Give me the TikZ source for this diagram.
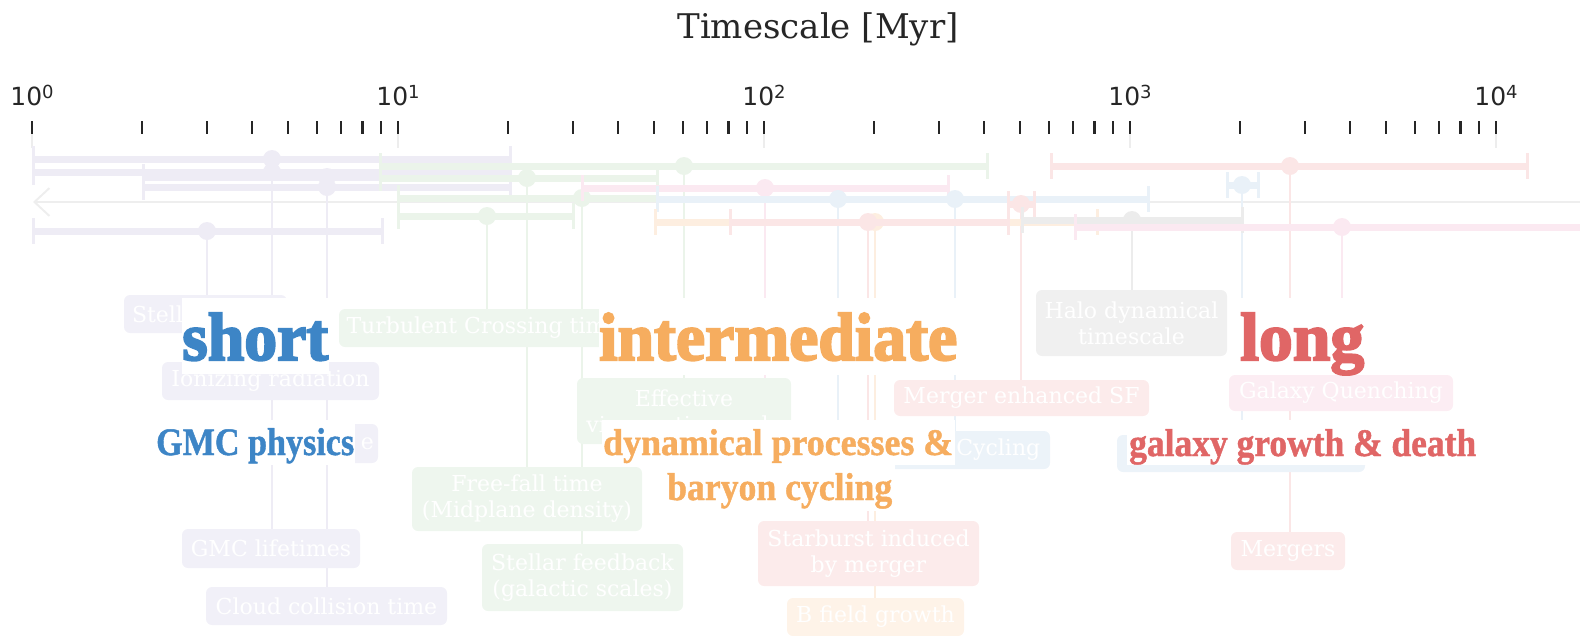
\documentclass[tikz,border=0pt]{standalone}
\usepackage{fontspec}
\usepackage{graphicx}
\usetikzlibrary{arrows.meta}
\setmainfont{DejaVu Serif}
\newfontfamily\ticksans{DejaVu Sans}
\newfontfamily\heavyfont{Liberation Serif}[BoldFeatures={FakeBold=3}]
\newfontfamily\medfont{Liberation Serif}[BoldFeatures={FakeBold=1.2}]

% ink and label colours
\definecolor{ink}{HTML}{262626}
\definecolor{stubc}{HTML}{EDEDED}
\definecolor{shortc}{HTML}{3D85C6}
\definecolor{interc}{HTML}{F6AD5F}
\definecolor{longc}{HTML}{E06666}
% pale series colours: L = bars and leaders, B = box fills
\definecolor{purpL}{HTML}{EEECF5}\definecolor{purpB}{HTML}{F1F0F8}
\definecolor{grnL}{HTML}{EBF4EA}\definecolor{grnB}{HTML}{EEF6EE}
\definecolor{pinkL}{HTML}{FBE9F1}\definecolor{pinkB}{HTML}{FCEDF3}
\definecolor{redL}{HTML}{FBE6E6}\definecolor{redB}{HTML}{FCEBEB}
\definecolor{orL}{HTML}{FDEEE0}\definecolor{orB}{HTML}{FEF3E8}
\definecolor{bluL}{HTML}{E9F1F8}\definecolor{bluB}{HTML}{ECF3F9}
\definecolor{gryL}{HTML}{ECECEC}\definecolor{gryB}{HTML}{F0F0F0}
\definecolor{arrc}{HTML}{EEEEEE}

\newcommand{\boxfont}{\fontsize{22}{26}\selectfont}
% big category word and its caption, stretched to a given width and height
\newcommand{\bigword}[3]{\resizebox{#1pt}{#2pt}{\heavyfont\fontsize{40}{48}\selectfont\bfseries #3}}
\newcommand{\subword}[3]{\resizebox{#1pt}{#2pt}{\medfont\fontsize{40}{48}\selectfont\bfseries #3}}

\pgfdeclarelayer{lines}
\pgfsetlayers{lines,main}

% error bar: colour, y, x1, x2, xdot, name of the dot
\newcommand{\ebar}[6]{%
  \draw[barline, draw=#1] (#3,#2) -- (#4,#2);
  \draw[capline, draw=#1] (#3,{#2-13}) -- (#3,{#2+13});
  \draw[capline, draw=#1] (#4,{#2-13}) -- (#4,{#2+13});
  \fill[#1] (#5,#2) circle[radius=9pt];
  \coordinate (#6) at (#5,#2);}

\begin{document}
\begin{tikzpicture}[x=1pt,y=-1pt,
  tick/.style={line width=2.2pt, draw=ink},
  majtick/.style={line width=2.6pt, draw=ink},
  stub/.style={line width=2pt, draw=stubc},
  barline/.style={line width=7pt},
  capline/.style={line width=3pt},
  leader/.style={line width=2.5pt},
  tbox/.style={rounded corners=6pt, inner sep=0pt, text=white, font=\boxfont, align=center},
  word/.style={anchor=base west, inner sep=0pt},
  labelbg/.style={fill=white}]

\useasboundingbox (0,0) rectangle (1580,635);

% axis title and logarithmic ticks
\node[anchor=base, inner sep=0pt, text=ink, font=\fontsize{34}{40}\selectfont] (title) at (818,38) {Timescale [Myr]};
\foreach \k in {0,1,2,3}{
  \foreach \m in {2,...,9}{
    \pgfmathsetmacro{\xx}{32+366*(\k+log10(\m))}
    \draw[tick] (\xx,121) -- (\xx,134);
  }}
\foreach \k in {0,1,2,3,4}{
  \pgfmathsetmacro{\xx}{32+366*\k}
  \draw[majtick] (\xx,121) -- (\xx,134);
  \draw[stub] (\xx,134) -- (\xx,148);
  \node[anchor=base, inner sep=0pt, text=ink] (t\k) at (\xx,105)
    {\ticksans\fontsize{25}{25}\selectfont 10\raisebox{7pt}{\fontsize{18}{18}\selectfont \k}};
}

% long arrow line through the bars
\coordinate (arrL) at (33,202);
\coordinate (arrR) at (1580,202);
\begin{pgfonlayer}{lines}
\draw[line width=2pt, draw=arrc, {Straight Barb[length=15pt,width=28pt]}-] (arrL) -- (arrR);
\end{pgfonlayer}

% error bars
\ebar{purpL}{159}{33}{510}{272}{pA}
\ebar{purpL}{172}{33}{510}{272}{pB}
\ebar{purpL}{177}{143}{510}{327}{pC}
\ebar{purpL}{187}{143}{510}{327}{pD}
\ebar{purpL}{231}{33}{382}{207}{pE}
\ebar{grnL}{166}{380}{987}{684}{gA}
\ebar{grnL}{178}{380}{657}{527}{gB}
\ebar{grnL}{198}{398}{657}{582}{gC}
\ebar{grnL}{216}{398}{573}{487}{gD}
\ebar{pinkL}{188}{582}{948}{765}{kA}
\ebar{bluL}{199}{657}{1148}{838}{bA}
\fill[bluL] (955,199) circle[radius=9pt];
\coordinate (bB) at (955,199);
\ebar{orL}{222}{655}{1097}{875}{oA}
\ebar{redL}{222}{730}{1008}{868}{rA}
\ebar{redL}{204}{1008}{1034}{1021}{rB}
\ebar{gryL}{220}{1022}{1242}{1132}{hA}
\ebar{pinkL}{227}{1075}{1600}{1342}{kB}
\ebar{redL}{166}{1051}{1527}{1290}{rC}
\ebar{bluL}{185}{1227}{1258}{1242}{bC}

% labelled boxes
\node[tbox, fill=purpB, minimum width=163pt, minimum height=38pt, text width=147pt, align=left] (stell) at (205.5,314) {Stell};
\node[tbox, fill=purpB, minimum width=217pt, minimum height=38pt] (ion) at (270.5,381) {Ionizing radiation};
\node[tbox, fill=purpB, minimum width=212pt, minimum height=39pt, text width=204pt, align=right] (pe) at (272,443.5) {e};
\node[tbox, fill=purpB, minimum width=178pt, minimum height=39pt] (gmclife) at (271,548.5) {GMC lifetimes};
\node[tbox, fill=purpB, minimum width=241pt, minimum height=38pt] (cloud) at (326.5,606) {Cloud collision time};
\node[tbox, fill=grnB, minimum width=288pt, minimum height=38pt] (turb) at (483,328) {Turbulent Crossing time};
\node[tbox, fill=grnB, minimum width=214pt, minimum height=66pt] (eff) at (684,411) {Effective\\viscous timescale};
\node[tbox, fill=grnB, minimum width=230pt, minimum height=64pt] (ff) at (527,499) {Free-fall time\\(Midplane density)};
\node[tbox, fill=grnB, minimum width=201pt, minimum height=67pt] (sfb) at (582.5,577.5) {Stellar feedback\\(galactic scales)};
\node[tbox, fill=redB, minimum width=221pt, minimum height=65pt] (sb) at (868.5,553.5) {Starburst induced\\by merger};
\node[tbox, fill=orB, minimum width=177pt, minimum height=38pt] (bfield) at (875.5,617) {B field growth};
\node[tbox, fill=redB, minimum width=255pt, minimum height=36pt] (mesf) at (1021.5,398) {Merger enhanced SF};
\node[tbox, fill=bluB, minimum width=190pt, minimum height=38pt] (cyc) at (955,450) {Baryon Cycling};
\node[tbox, fill=gryB, minimum width=191pt, minimum height=66pt] (halo) at (1131.5,323) {Halo dynamical\\timescale};
\node[tbox, fill=pinkB, minimum width=224pt, minimum height=36pt] (quench) at (1341,393) {Galaxy Quenching};
\node[tbox, fill=bluB, minimum width=248pt, minimum height=37pt] (blue2) at (1241,453.5) {};
\node[tbox, fill=redB, minimum width=114pt, minimum height=38pt] (mergers) at (1288,551) {Mergers};

% leaders from each dot down to its box
\coordinate (bAend) at (838,475);
\coordinate (kAend) at (765,470);
\begin{pgfonlayer}{lines}
\draw[leader, draw=purpL] (pE) -- (pE |- stell.north);
\draw[leader, draw=purpL] (pA) -- (pA |- pe.north);
\draw[leader, draw=purpL] (pB) -- (pB |- gmclife.north);
\draw[leader, draw=purpL] (pC) -- (pC |- ion.north);
\draw[leader, draw=purpL] (pD) -- (pD |- cloud.north);
\draw[leader, draw=grnL] (gA) -- (gA |- eff.north);
\draw[leader, draw=grnL] (gB) -- (gB |- ff.north);
\draw[leader, draw=grnL] (gC) -- (gC |- sfb.north);
\draw[leader, draw=grnL] (gD) -- (gD |- turb.north);
\draw[leader, draw=pinkL] (kA) -- (kAend);
\draw[leader, draw=bluL] (bA) -- (bAend);
\draw[leader, draw=bluL] (bB) -- (bB |- cyc.north);
\draw[leader, draw=orL] (oA) -- (oA |- bfield.north);
\draw[leader, draw=redL] (rA) -- (rA |- sb.north);
\draw[leader, draw=redL] (rB) -- (rB |- mesf.north);
\draw[leader, draw=gryL] (hA) -- (hA |- halo.north);
\draw[leader, draw=pinkL] (kB) -- (kB |- quench.north);
\draw[leader, draw=redL] (rC) -- (rC |- mergers.north);
\draw[leader, draw=bluL] (bC) -- (bC |- blue2.north);
\end{pgfonlayer}

% category labels on white grounds
\fill[labelbg] (182,298) rectangle (329,374);
\node[word, text=shortc] (wshort) at (182,360) {\bigword{146}{47}{short}};
\fill[labelbg] (155,420) rectangle (355,465);
\node[word, text=shortc] (wgmc) at (156,455) {\subword{198}{27}{GMC physics}};
\fill[labelbg] (599,298) rectangle (957,375);
\node[word, text=interc] (winter) at (599,360) {\bigword{358}{47}{intermediate}};
\fill[labelbg] (602,420) rectangle (955,465);
\node[word, text=interc] (wdyn) at (603,455) {\subword{350}{26}{dynamical processes \&}};
\fill[labelbg] (665,465) rectangle (895,511);
\node[word, text=interc] (wbar) at (667,500) {\subword{225}{27}{baryon cycling}};
\fill[labelbg] (1240,298) rectangle (1364,375);
\node[word, text=longc] (wlong) at (1240,360) {\bigword{124}{47}{long}};
\fill[labelbg] (1127,420) rectangle (1478,465);
\node[word, text=longc] (wgal) at (1129,456) {\subword{347}{27}{galaxy growth \& death}};

\end{tikzpicture}
\end{document}
